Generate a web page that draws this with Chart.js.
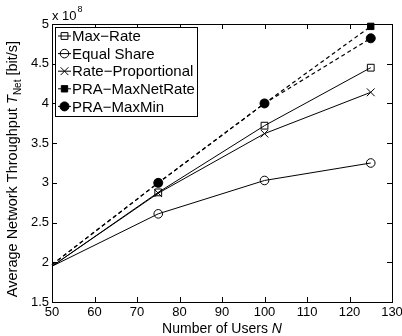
<!DOCTYPE html>
<html>
<head>
<meta charset="utf-8">
<script src="https://cdn.jsdelivr.net/npm/chart.js@4.4.1/dist/chart.umd.min.js"></script>
<style>
  html, body { margin: 0; padding: 0; background: #fff; }
  #wrap { width: 402px; height: 336px; }
</style>
</head>
<body>
<div id="wrap"><canvas id="myChart" width="402" height="336"></canvas></div>
<script>
// values, y in units of 1e8 bit/s
var users = [50, 75, 100, 125];
var maxRate = [1.95, 2.88, 3.72, 4.45];
var equalShare = [1.95, 2.61, 3.03, 3.25];
var rateProportional = [1.95, 2.87, 3.62, 4.14];
var praMaxNetRate = [1.97, 3.0, 4.0, 4.97];
var praMaxMin = [1.97, 3.0, 4.0, 4.82];

var seriesNames = ['Max\u2212Rate', 'Equal Share', 'Rate\u2212Proportional', 'PRA\u2212MaxNetRate', 'PRA\u2212MaxMin'];
var xTicks = [50, 60, 70, 80, 90, 100, 110, 120, 130];
var yTicks = [1.5, 2, 2.5, 3, 3.5, 4, 4.5, 5];

var FONT = '"Liberation Sans", Arial, Helvetica, sans-serif';

function points(vals) {
  return users.map(function(u, i) { return { x: u, y: vals[i] }; });
}

// no marker on the first point (N = 50)
function radii(r) {
  return users.map(function(u, i) { return i == 0 ? 0 : r; });
}

function makeSet(label, vals, style, r, filled, dashed) {
  return {
    label: label,
    data: points(vals),
    borderColor: '#000',
    borderWidth: dashed ? 1.2 : 1,
    borderDash: dashed ? [4, 3] : [],
    pointStyle: style,
    pointRadius: radii(r),
    pointBorderColor: '#000',
    pointBorderWidth: 1,
    pointBackgroundColor: filled ? '#000' : 'rgba(0,0,0,0)',
    tension: 0,
    fill: false,
    clip: false
  };
}

var frame = {
  id: 'frame',
  afterDraw: function(chart) {
    var ctx = chart.ctx, a = chart.chartArea;
    var xs = chart.scales.x, ys = chart.scales.y;
    ctx.save();
    ctx.strokeStyle = '#000';
    ctx.fillStyle = '#000';
    ctx.lineWidth = 1;
    ctx.setLineDash([]);
    ctx.strokeRect(a.left + 0.5, a.top + 0.5, a.right - a.left, a.bottom - a.top);

    // inward ticks on all four sides
    ctx.beginPath();
    xTicks.forEach(function(v) {
      var px = Math.round(xs.getPixelForValue(v)) + 0.5;
      ctx.moveTo(px, a.bottom); ctx.lineTo(px, a.bottom - 5);
      ctx.moveTo(px, a.top); ctx.lineTo(px, a.top + 5);
    });
    yTicks.forEach(function(v) {
      var py = Math.round(ys.getPixelForValue(v)) + 0.5;
      ctx.moveTo(a.left, py); ctx.lineTo(a.left + 5, py);
      ctx.moveTo(a.right, py); ctx.lineTo(a.right - 5, py);
    });
    ctx.stroke();

    // tick labels
    ctx.font = '13px ' + FONT;
    ctx.textAlign = 'center';
    ctx.textBaseline = 'top';
    xTicks.forEach(function(v) {
      ctx.fillText(String(v), xs.getPixelForValue(v), a.bottom + 4);
    });
    ctx.textAlign = 'right';
    ctx.textBaseline = 'middle';
    yTicks.forEach(function(v) {
      ctx.fillText(String(v), a.left - 3, ys.getPixelForValue(v));
    });

    // exponent
    ctx.textAlign = 'left';
    ctx.textBaseline = 'alphabetic';
    ctx.font = '13px ' + FONT;
    ctx.fillText('x 10', a.left, a.top - 4);
    var w = ctx.measureText('x 10').width;
    ctx.font = '9px ' + FONT;
    ctx.fillText('8', a.left + w + 1, a.top - 12);

    // x title
    var t1 = 'Number of Users ';
    ctx.font = '14px ' + FONT;
    var w1 = ctx.measureText(t1).width;
    ctx.font = 'italic 14px ' + FONT;
    var w2 = ctx.measureText('N').width;
    var x0 = (a.left + a.right) / 2 - (w1 + w2) / 2;
    ctx.font = '14px ' + FONT;
    ctx.fillText(t1, x0, 333);
    ctx.font = 'italic 14px ' + FONT;
    ctx.fillText('N', x0 + w1, 333);

    // y title, rotated, with subscript
    ctx.save();
    ctx.translate(17, (a.top + a.bottom) / 2 + 6);
    ctx.rotate(-Math.PI / 2);
    var parts = [
      { t: 'Average Network Throughput ', f: '14.5px ', dy: 0 },
      { t: 'T', f: 'italic 14.5px ', dy: 0 },
      { t: 'Net', f: '10px ', dy: 4 },
      { t: ' [bit/s]', f: '14.5px ', dy: 0 }
    ];
    var total = 0;
    parts.forEach(function(p) { ctx.font = p.f + FONT; p.w = ctx.measureText(p.t).width; total += p.w; });
    var cx = -total / 2;
    parts.forEach(function(p) {
      ctx.font = p.f + FONT;
      ctx.fillText(p.t, cx, p.dy);
      cx += p.w;
    });
    ctx.restore();

    // legend box
    var lx = 55, ly = 27, lw = 142, lh = 89;
    ctx.fillStyle = '#fff';
    ctx.fillRect(lx, ly, lw, lh);
    ctx.strokeStyle = '#000';
    ctx.strokeRect(lx + 0.5, ly + 0.5, lw, lh);
    chart.data.datasets.forEach(function(ds, i) {
      var y = ly + 9 + i * 17.6;
      ctx.save();
      ctx.strokeStyle = '#000';
      ctx.lineWidth = 1;
      ctx.setLineDash(ds.borderDash.length ? [3, 2] : []);
      ctx.beginPath();
      ctx.moveTo(58, y); ctx.lineTo(71, y);
      ctx.stroke();
      ctx.setLineDash([]);
      ctx.fillStyle = ds.pointBackgroundColor;
      Chart.helpers.drawPoint(ctx, {
        pointStyle: ds.pointStyle,
        radius: ds.pointRadius[1],
        rotation: 0,
        borderWidth: 1
      }, 64.5, y);
      ctx.restore();
      ctx.fillStyle = '#000';
      ctx.font = '15px ' + FONT;
      ctx.textAlign = 'left';
      ctx.textBaseline = 'middle';
      ctx.fillText(ds.label, 72, y + 1);
    });
    ctx.restore();
  }
};

var ctx = document.getElementById('myChart').getContext('2d');
var myChart = new Chart(ctx, {
  type: 'line',
  data: {
    datasets: [
      makeSet(seriesNames[0], maxRate, 'rect', 4.8, false, false),
      makeSet(seriesNames[1], equalShare, 'circle', 4.3, false, false),
      makeSet(seriesNames[2], rateProportional, 'crossRot', 5.5, false, false),
      makeSet(seriesNames[3], praMaxNetRate, 'rect', 4.5, true, true),
      makeSet(seriesNames[4], praMaxMin, 'circle', 4.5, true, true)
    ]
  },
  options: {
    responsive: false,
    devicePixelRatio: 1,
    animation: false,
    layout: { padding: { left: 52, top: 24, right: 10, bottom: 34 } },
    plugins: { legend: { display: false }, tooltip: { enabled: false } },
    scales: {
      x: { type: 'linear', min: 50, max: 130, display: false },
      y: { type: 'linear', min: 1.5, max: 5, display: false }
    }
  },
  plugins: [frame]
});
</script>
</body>
</html>
